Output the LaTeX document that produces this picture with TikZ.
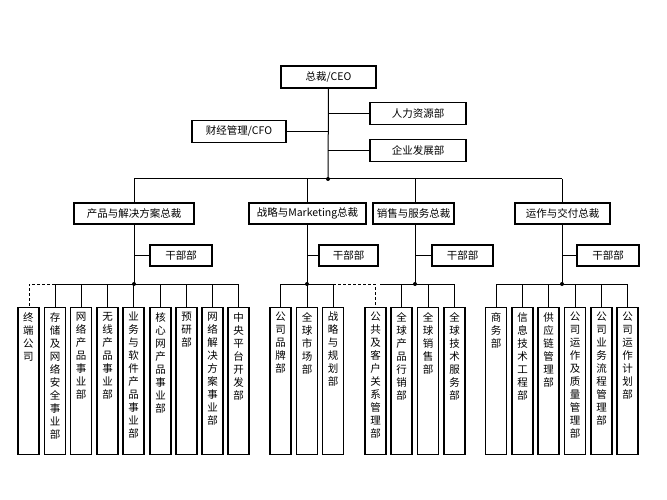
\documentclass[tikz,border=0pt]{standalone}
\usepackage{fontspec}
\setmainfont{Noto Sans CJK SC}
\begin{document}
\begin{tikzpicture}[x=1pt,y=-1pt,
  box/.style={draw,line width=1.2pt,inner sep=0pt,font=\fontsize{10.5}{12}\selectfont},
  dept/.style={draw,line width=1.2pt,inner sep=0pt,minimum width=21pt,minimum height=147pt,anchor=north},
  vtxt/.style={anchor=north,align=center,inner sep=0pt,font=\fontsize{10.5}{13}\selectfont},
  ln/.style={line width=1pt},
  dsh/.style={line width=1pt,dash pattern=on 3pt off 2pt},
  dot/.style={circle,fill,inner sep=0pt,minimum size=4pt}]
\useasboundingbox (0,0) rectangle (667,500);
% top
\node[box,minimum width=95pt,minimum height=22pt] (ceo) at (328.5,77) {总裁/CEO};
\node[box,minimum width=96pt,minimum height=22pt] (hr) at (418,113.5) {人力资源部};
\node[box,minimum width=94pt,minimum height=22pt] (cfo) at (239,131.5) {财经管理/CFO};
\node[box,minimum width=96pt,minimum height=22pt] (dev) at (418,150.5) {企业发展部};
\coordinate (hub) at (328,179);
\draw[ln] (ceo.south) -- (hub);
\draw[ln] (hr.west) -- (hr.west -| hub);
\draw[ln] (cfo.east) -- (cfo.east -| hub);
\draw[ln] (dev.west) -- (dev.west -| hub);
\node[dot] at (hub) {};
% VPs
\node[box,minimum width=120pt,minimum height=21pt] (vp1) at (134,213.5) {产品与解决方案总裁};
\node[box,minimum width=117pt,minimum height=21pt] (vp2) at (307.5,213.5) {战略与Marketing总裁};
\node[box,minimum width=81pt,minimum height=21pt] (vp3) at (413.5,213.5) {销售与服务总裁};
\node[box,minimum width=95pt,minimum height=21pt] (vp4) at (562.5,213.5) {运作与交付总裁};
\draw[ln] (134,179) -- (562,179);
\foreach \v/\x in {vp1/134,vp2/307,vp3/415,vp4/562} \draw[ln] (\x,179) -- (\x,203);
% 干部部
\node[box,minimum width=62pt,minimum height=21pt] (g1) at (181,255.5) {干部部};
\node[box,minimum width=59pt,minimum height=21pt] (g2) at (348.5,255.5) {干部部};
\node[box,minimum width=61pt,minimum height=21pt] (g3) at (462.5,255.5) {干部部};
\node[box,minimum width=62pt,minimum height=21pt] (g4) at (608,255.5) {干部部};
\foreach \g/\x in {g1/134,g2/307,g3/415,g4/562} {
  \draw[ln] (\x,224) -- (\x,284);
  \draw[ln] (\g.west) -- (\x,255.5);
  \node[dot] at (\x,284) {};
}
% buses
\draw[ln] (55,284) -- (239,284);
\draw[dsh] (55,284) -- (29,284) -- (29,307);
\draw[ln] (281,284) -- (333,284);
\draw[dsh] (333,284) -- (375,284) -- (375,307);
\draw[ln] (380,284) -- (454,284);
\draw[ln] (497,284) -- (628,284);
% departments
\foreach \n/\x/\t in {
 d1/28.5/终\\端\\公\\司,
 d2/55/存\\储\\及\\网\\络\\安\\全\\事\\业\\部,
 d3/81/网\\络\\产\\品\\事\\业\\部,
 d4/107.5/无\\线\\产\\品\\事\\业\\部,
 d5/133.5/业\\务\\与\\软\\件\\产\\品\\事\\业\\部,
 d6/160.5/核\\心\\网\\产\\品\\事\\业\\部,
 d7/186.5/预\\研\\部,
 d8/212.5/网\\络\\解\\决\\方\\案\\事\\业\\部,
 d9/238.5/中\\央\\平\\台\\开\\发\\部,
 e1/280.5/公\\司\\品\\牌\\部,
 e2/307/全\\球\\市\\场\\部,
 e3/333/战\\略\\与\\规\\划\\部,
 f1/375.5/公\\共\\及\\客\\户\\关\\系\\管\\理\\部,
 f2/401.5/全\\球\\产\\品\\行\\销\\部,
 f3/428/全\\球\\销\\售\\部,
 f4/454.5/全\\球\\技\\术\\服\\务\\部,
 h1/496/商\\务\\部,
 h2/522.5/信\\息\\技\\术\\工\\程\\部,
 h3/548.5/供\\应\\链\\管\\理\\部,
 h4/575/公\\司\\运\\作\\及\\质\\量\\管\\理\\部,
 h5/601.5/公\\司\\业\\务\\流\\程\\管\\理\\部,
 h6/627.5/公\\司\\运\\作\\计\\划\\部} {
  \node[dept] (\n) at (\x,307) {};
  \node[vtxt] at (\x,312) {\t};
}
\foreach \n in {d2,d3,d4,d5,d6,d7,d8,d9,e1,e2,e3,f2,f3,f4,h1,h2,h3,h4,h5,h6}
  \draw[ln] (\n.north) -- (\n.north |- 0,284);
\end{tikzpicture}
\end{document}
